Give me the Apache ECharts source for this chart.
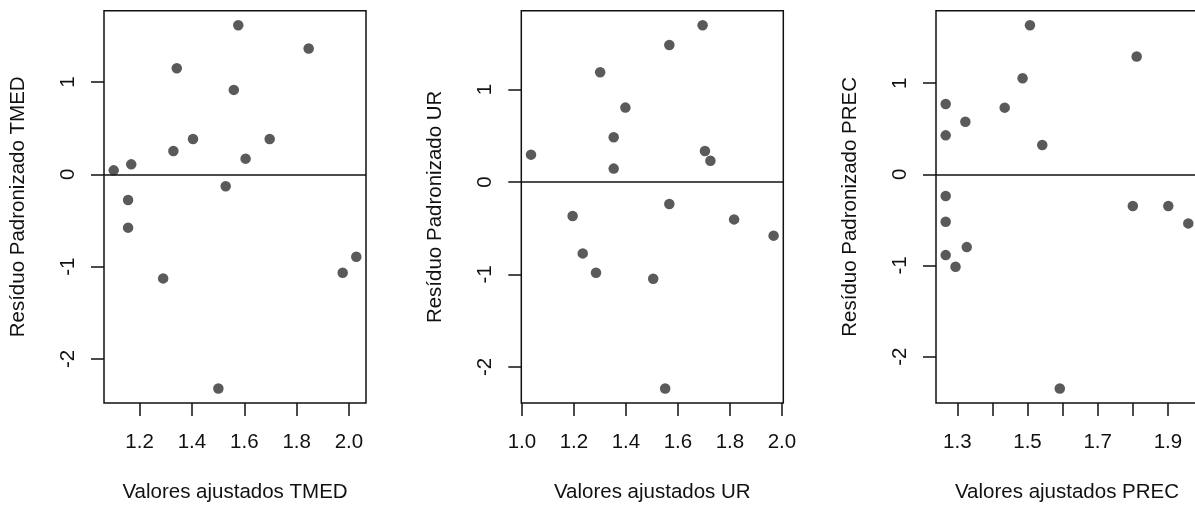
<!DOCTYPE html>
<html>
<head>
<meta charset="utf-8">
<title>Resíduos padronizados</title>
<script src="https://cdn.jsdelivr.net/npm/echarts@6/dist/echarts.min.js"></script>
<style>
  html, body { margin: 0; padding: 0; background: #fff; }
  #chart { width: 1195px; height: 507px; }
</style>
</head>
<body>
<div id="chart"></div>
<script>
// Valores ajustados x resíduo padronizado, um painel por variável
var fitTMED = [1.101, 1.168, 1.156, 1.156, 1.290, 1.329, 1.342, 1.404, 1.501, 1.529, 1.560, 1.577, 1.605, 1.697, 1.846, 1.976, 2.028];
var resTMED = [0.043, 0.108, -0.278, -0.578, -1.128, 0.253, 1.150, 0.383, -2.321, -0.130, 0.915, 1.616, 0.170, 0.383, 1.363, -1.066, -0.893];

var fitUR = [1.035, 1.195, 1.234, 1.285, 1.301, 1.353, 1.353, 1.398, 1.505, 1.551, 1.567, 1.567, 1.695, 1.704, 1.725, 1.816, 1.968];
var resUR = [0.296, -0.368, -0.772, -0.981, 1.187, 0.484, 0.145, 0.805, -1.046, -2.233, 1.483, -0.238, 1.696, 0.336, 0.231, -0.404, -0.580];

var fitPREC = [1.267, 1.267, 1.267, 1.267, 1.267, 1.295, 1.323, 1.327, 1.435, 1.486, 1.507, 1.542, 1.592, 1.800, 1.811, 1.901, 1.958];
var resPREC = [0.772, 0.428, -0.238, -0.520, -0.886, -1.013, 0.578, -0.798, 0.732, 1.054, 1.636, 0.322, -2.349, -0.348, 1.292, -0.348, -0.538];

// Marcas dos eixos
var ticksY = [-2, -1, 0, 1];
var ticksXTMED = [1.2, 1.4, 1.6, 1.8, 2.0];
var ticksXUR = [1.0, 1.2, 1.4, 1.6, 1.8, 2.0];
var ticksXPREC = [1.3, 1.4, 1.5, 1.6, 1.7, 1.8, 1.9];
var labelsXPREC = [1.3, 1.5, 1.7, 1.9];

var FONT = "'Liberation Sans', Arial, sans-serif";
var FS = 20.5;
var INK = '#111';
var LW = 1.5;

// Faixa do eixo: extremos dos dados com 4% de folga de cada lado
function padRange(arr) {
  var lo = Math.min.apply(null, arr), hi = Math.max.apply(null, arr);
  var d = (hi - lo) * 0.04;
  return [lo - d, hi + d];
}

var panels = [
  { x: fitTMED, y: resTMED, xt: ticksXTMED, xl: ticksXTMED, xName: 'Valores ajustados TMED', yName: 'Resíduo Padronizado TMED', left: 104 },
  { x: fitUR, y: resUR, xt: ticksXUR, xl: ticksXUR, xName: 'Valores ajustados UR', yName: 'Resíduo Padronizado UR', left: 521.3 },
  { x: fitPREC, y: resPREC, xt: ticksXPREC, xl: labelsXPREC, xName: 'Valores ajustados PREC', yName: 'Resíduo Padronizado PREC', left: 936 }
];

var grids = [], xAxes = [], yAxes = [], series = [];
panels.forEach(function (p, i) {
  var xr = padRange(p.x), yr = padRange(p.y);
  grids.push({
    left: p.left, top: 10.7, width: 262, height: 392.3,
    show: true, borderColor: INK, borderWidth: LW, backgroundColor: '#fff',
    containLabel: false, outerBoundsMode: 'none'
  });
  xAxes.push({
    type: 'value', gridIndex: i, min: xr[0], max: xr[1], position: 'bottom',
    axisLine: { show: false, onZero: false },
    axisTick: { show: true, inside: false, length: 13, customValues: p.xt, lineStyle: { color: INK, width: LW } },
    axisLabel: { show: true, margin: 29, customValues: p.xl, color: INK, fontFamily: FONT, fontSize: FS,
      formatter: function (v) { return Number(v).toFixed(1); } },
    splitLine: { show: false },
    name: p.xName, nameLocation: 'middle', nameGap: 79,
    nameTextStyle: { color: INK, fontFamily: FONT, fontSize: FS }
  });
  yAxes.push({
    type: 'value', gridIndex: i, min: yr[0], max: yr[1], position: 'left',
    axisLine: { show: false, onZero: false },
    axisTick: { show: true, inside: false, length: 13, customValues: ticksY, lineStyle: { color: INK, width: LW } },
    axisLabel: { show: true, rotate: 90, margin: 25, customValues: ticksY, color: INK, fontFamily: FONT, fontSize: FS,
      formatter: function (v) { return String(v); } },
    splitLine: { show: false },
    name: p.yName, nameLocation: 'middle', nameRotate: 90, nameGap: 75,
    nameTextStyle: { color: INK, fontFamily: FONT, fontSize: FS }
  });
  series.push({
    type: 'scatter', xAxisIndex: i, yAxisIndex: i,
    data: p.x.map(function (v, k) { return [v, p.y[k]]; }),
    symbol: 'circle', symbolSize: 10.5,
    itemStyle: { color: '#5a5a5a', opacity: 1 },
    silent: true,
    markLine: {
      silent: true, symbol: 'none', label: { show: false },
      lineStyle: { color: INK, width: LW, type: 'solid' },
      data: [{ yAxis: 0 }]
    }
  });
});

var chart = echarts.init(document.getElementById('chart'), null, { renderer: 'canvas' });
chart.setOption({
  animation: false,
  backgroundColor: '#fff',
  grid: grids,
  xAxis: xAxes,
  yAxis: yAxes,
  series: series
});
</script>
</body>
</html>
